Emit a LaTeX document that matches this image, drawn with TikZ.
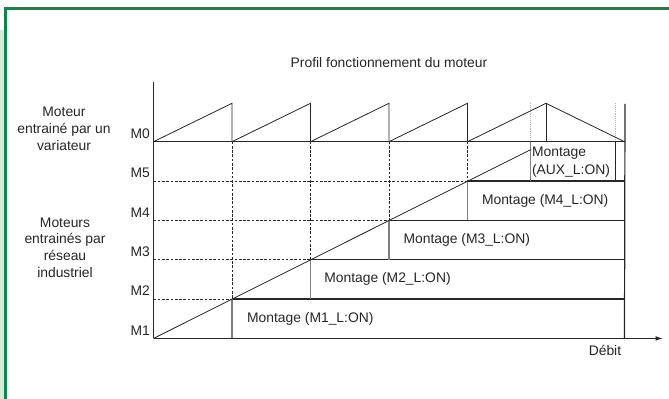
\documentclass[tikz,border=0pt]{standalone}
\usepackage{fontspec}
\setmainfont{Liberation Sans}
\usepackage{tikz}
\usetikzlibrary{arrows.meta}

\definecolor{framegreen}{HTML}{13854A}
\definecolor{shadegreen}{HTML}{D2ECD8}
\definecolor{inkgrey}{HTML}{262626}
\definecolor{edgegrey}{HTML}{808080}
\definecolor{dotgrey}{HTML}{B8B8B8}

\begin{document}
\begin{tikzpicture}[
    x=0.75pt, y=-0.75pt,
    txt/.style={
        font=\fontsize{10.4}{12.6}\selectfont,
        text=inkgrey,
        inner sep=1pt
    },
    lvl/.style={txt, anchor=base east, xshift=-1.5pt, yshift=2.4pt},
    group/.style={txt, align=center},
    mount/.style={txt, anchor=west, align=left},
    ramp/.style={draw=inkgrey, line width=0.6pt},
    dashgrid/.style={draw=inkgrey, line width=0.6pt, dash pattern=on 2pt off 1.2pt},
    onbox/.style={draw=inkgrey, line width=0.9pt},
    leftedge/.style={draw=edgegrey, line width=0.9pt},
    >={Latex[length=5.5pt,width=3.5pt]}
]
\useasboundingbox (0,0) rectangle (669,399);

% frame
\fill[shadegreen] (0,30) rectangle (3.8,399);
\draw[framegreen, line width=2.1pt] (5.3,399) -- (5.3,8.7) -- (669,8.7);

% levels on the axis
\coordinate (m0) at (153.5,141.7);
\coordinate (m5) at (153.5,181.05);
\coordinate (m4) at (153.5,220.4);
\coordinate (m3) at (153.5,259.75);
\coordinate (m2) at (153.5,299.1);
\coordinate (m1) at (153.5,338.45);

% columns on the M0 line, and peaks
\coordinate (t0) at (m0);
\foreach \i in {1,...,6} {
    \coordinate (t\i) at ({153.5+78.5*\i},141.7);
    \coordinate (p\i) at ({153.5+78.5*\i},103.3);
}
\coordinate (auxl) at (530.7,141.7);
\coordinate (auxr) at (615.3,141.7);
\coordinate (ytop) at (153.5,82);
\coordinate (xend) at (663,338.45);
\coordinate (rtop) at (625,104);
\coordinate (diagend) at (530.7,149.6);

% dashed grid
\foreach \c/\r in {1/m2, 2/m3, 3/m4, 4/m5} {
    \draw[dashgrid] (t\c) -- (t\c |- \r);
    \draw[dashgrid] (\r) -- (t\c |- \r);
}

% montage boxes
\foreach \c/\r/\s in {1/m2/m1, 2/m3/m2, 3/m4/m3, 4/m5/m4} {
    \draw[onbox] (t\c |- \r) -- (t6 |- \r);
    \draw[leftedge] (t\c |- \r) -- (t\c |- \s);
}
\draw[leftedge] (auxl) -- (auxl |- m5);
\draw[onbox] (auxr) -- (auxr |- m5);
\draw[onbox] (rtop) -- (t6 |- m1);

% variator profile
\draw[dotgrey, densely dotted] (auxl |- p5) -- (auxl);
\draw[dotgrey, densely dotted] (auxr |- p5) -- (auxr);
\draw[onbox] (m0) -- (t6);
\foreach \a/\b in {0/1, 1/2, 2/3, 3/4}
    \draw[ramp] (t\a) -- (p\b) -- (t\b);
\draw[ramp] (t4) -- (p5) -- (t6);
\draw[ramp] (p5) -- (t5);

% network ramp
\draw[ramp] (m1) -- (diagend);

% axes
\draw[ramp] (ytop) -- (m1);
\draw[onbox, ->] (m1) -- (xend);

% labels
\node[txt] (title) at (389,63) {Profil fonctionnement du moteur};
\node[group] (vargroup) at (64,129) {Moteur\\entrainé par un\\variateur};
\node[group] (netgroup) at (65,247.5) {Moteurs\\entrainés par\\réseau\\industriel};

\foreach \r in {0,...,5}
    \node[lvl] (lab\r) at (m\r) {M\r};

\node[mount] (mon1) at (245.5,318.8) {Montage (M1\_L:ON)};
\node[mount] (mon2) at (322.7,279.4) {Montage (M2\_L:ON)};
\node[mount] (mon3) at (402,240.1) {Montage (M3\_L:ON)};
\node[mount] (mon4) at (480.4,200.7) {Montage (M4\_L:ON)};
\node[mount] (monaux) at (530.5,162) {Montage\\[0.8pt](AUX\_L:ON)};

\node[txt] (debit) at (605,350) {Débit};

\end{tikzpicture}
\end{document}
